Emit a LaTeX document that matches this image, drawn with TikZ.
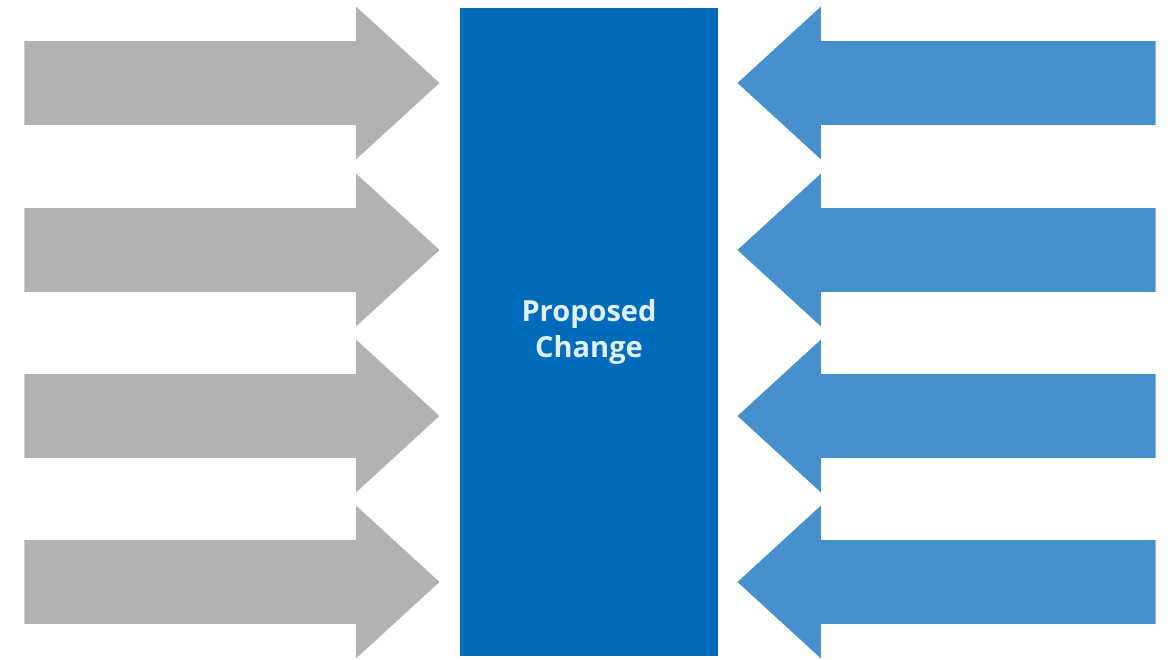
\documentclass[tikz,border=0pt]{standalone}
\usepackage{fontspec}
\setsansfont{Open Sans}
\usepackage{tikz}
\usetikzlibrary{shapes,positioning}
\usepackage{xcolor}
\definecolor{ffgray}{RGB}{178,178,178}
\definecolor{ffblue}{RGB}{70,144,206}
\definecolor{ffdarkblue}{RGB}{0,106,187}
\definecolor{fftext}{RGB}{225,240,255}
\tikzstyle{drivearrow} = [single arrow, anchor=tip, fill=ffgray, draw=none, minimum height=8.3cm, minimum width=3.04cm, single arrow head extend=0.69cm, single arrow tip angle=85, inner sep=0pt, inner ysep=0.83cm]
\tikzstyle{resistarrow} = [drivearrow, fill=ffblue, shape border rotate=180, minimum height=8.36cm]
\tikzstyle{changebox} = [rectangle, fill=ffdarkblue, draw=none, minimum width=5.16cm, minimum height=12.96cm, text centered, text=fftext, font=\sffamily\bfseries\fontsize{16.5}{20}\selectfont, align=center]

\begin{document}
\begin{tikzpicture}
\useasboundingbox (0,0) rectangle (23.4,13.2);
% Centre: the proposed change
\node[changebox] (change) at (11.78,6.56) {Proposed\\Change};

% Left side: driving forces
\node[drivearrow] (drive1) at (8.8,11.54) {};
\node[drivearrow] (drive2) at (8.8,8.2) {};
\node[drivearrow] (drive3) at (8.8,4.88) {};
\node[drivearrow] (drive4) at (8.8,1.56) {};

% Right side: restraining forces
\node[resistarrow] (resist1) at (14.74,11.54) {};
\node[resistarrow] (resist2) at (14.74,8.2) {};
\node[resistarrow] (resist3) at (14.74,4.88) {};
\node[resistarrow] (resist4) at (14.74,1.56) {};
\end{tikzpicture}
\end{document}
